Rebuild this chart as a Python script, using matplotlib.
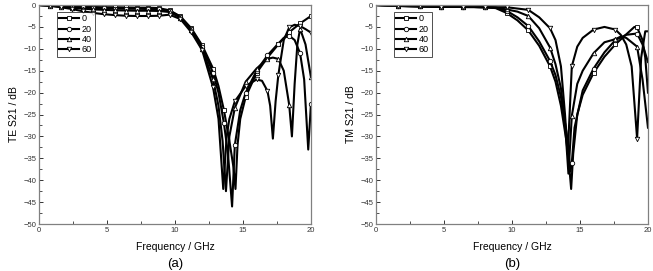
import numpy as np
import matplotlib
matplotlib.use("Agg")
import matplotlib.pyplot as plt
from matplotlib.ticker import MultipleLocator

plt.rcParams['font.family'] = ['Liberation Sans', 'DejaVu Sans']

angles = ["0", "20", "40", "60"]
markers = ["s", "o", "^", "v"]

# ---------------- TE (a) ----------------
te_f_0 = [0, 0.8, 1.6, 2.4, 3.2, 4.0, 4.8, 5.6, 6.4, 7.2, 8.0, 8.8, 9.6, 10.4, 11.2, 12.0, 12.8, 13.2, 13.6,
          14.0, 14.3, 14.45, 14.6, 14.8, 15.2, 16.0, 16.8, 17.6, 18.4, 19.2, 20.0]
te_s_0 = [0, -0.1, -0.2, -0.3, -0.4, -0.45, -0.5, -0.5, -0.55, -0.6, -0.6, -0.7, -1.2, -2.6, -5.3, -9.2, -14.5, -18.5, -24.0,
          -31.0, -37.0, -42.0, -32.0, -26.0, -21.0, -15.5, -12.0, -9.0, -6.2, -4.2, -2.5]

te_f_20 = [0, 0.8, 1.6, 2.4, 3.2, 4.0, 4.8, 5.6, 6.4, 7.2, 8.0, 8.8, 9.6, 10.4, 11.2, 12.0, 12.8, 13.2, 13.6,
           13.9, 14.2, 14.4, 14.8, 15.2, 16.0, 16.8, 17.6, 18.0, 18.4, 18.8, 19.2, 19.5, 19.8, 20.0]
te_s_20 = [0, -0.1, -0.25, -0.4, -0.55, -0.65, -0.75, -0.8, -0.85, -0.85, -0.9, -1.0, -1.3, -2.7, -5.5, -9.5, -15.5, -20.0, -27.0,
           -34.0, -46.0, -32.0, -24.0, -20.0, -15.0, -11.5, -8.8, -7.5, -7.0, -8.0, -11.0, -17.0, -33.0, -22.5]

te_f_40 = [0, 0.8, 1.6, 2.4, 3.2, 4.0, 4.8, 5.6, 6.4, 7.2, 8.0, 8.8, 9.6, 10.4, 11.2, 12.0, 12.8, 13.2, 13.5,
           13.75, 14.0, 14.4, 15.2, 16.0, 16.8, 17.2, 17.6, 18.0, 18.4, 18.6, 18.8, 19.0, 19.2, 19.6, 20.0]
te_s_40 = [0, -0.15, -0.35, -0.6, -0.8, -1.0, -1.1, -1.2, -1.25, -1.3, -1.3, -1.35, -1.6, -2.9, -5.8, -10.0, -17.0, -23.0, -31.0,
           -42.5, -30.0, -23.5, -17.5, -14.5, -12.3, -12.0, -12.3, -15.0, -22.8, -30.0, -18.0, -9.0, -5.4, -9.0, -16.5]

te_f_60 = [0, 0.8, 1.6, 2.4, 3.2, 4.0, 4.8, 5.6, 6.4, 7.2, 8.0, 8.8, 9.6, 10.4, 11.2, 12.0, 12.8, 13.2, 13.55,
           13.8, 14.0, 14.4, 15.2, 16.0, 16.4, 16.8, 17.0, 17.2, 17.4, 17.6, 18.0, 18.4, 18.8, 19.2, 19.6, 20.0]
te_s_60 = [0, -0.2, -0.5, -0.9, -1.4, -1.8, -2.1, -2.3, -2.45, -2.5, -2.5, -2.45, -2.2, -3.2, -6.2, -10.3, -18.8, -26.0, -42.0,
           -30.0, -26.0, -22.0, -18.5, -17.0, -17.3, -19.6, -23.0, -30.5, -22.0, -16.0, -8.0, -5.1, -4.5, -4.8, -5.5, -6.3]

# ---------------- TM (b) ----------------
tm_f_0 = [0, 0.8, 1.6, 2.4, 3.2, 4.0, 4.8, 5.6, 6.4, 7.2, 8.0, 8.8, 9.6, 10.4, 11.2, 12.0, 12.8, 13.2, 13.6,
          14.0, 14.2, 14.35, 14.5, 14.8, 15.2, 16.0, 16.8, 17.6, 18.4, 19.0, 19.2, 19.6, 19.8, 20.0]
tm_s_0 = [0, -0.1, -0.2, -0.25, -0.3, -0.35, -0.4, -0.4, -0.45, -0.45, -0.5, -0.7, -1.8, -3.5, -5.8, -9.3, -14.0, -17.5, -23.0,
          -31.0, -36.5, -42.0, -34.0, -25.0, -20.5, -15.5, -11.8, -9.0, -6.7, -5.0, -5.1, -8.0, -12.0, -20.0]

tm_f_20 = [0, 0.8, 1.6, 2.4, 3.2, 4.0, 4.8, 5.6, 6.4, 7.2, 8.0, 8.8, 9.6, 10.4, 11.2, 12.0, 12.8, 13.2, 13.6,
           14.0, 14.3, 14.4, 14.6, 15.2, 16.0, 16.8, 17.6, 18.4, 19.2, 19.6, 20.0]
tm_s_20 = [0, -0.1, -0.2, -0.25, -0.3, -0.35, -0.4, -0.4, -0.45, -0.45, -0.5, -0.6, -1.3, -2.8, -4.8, -8.3, -12.8, -16.0, -21.0,
           -29.0, -38.0, -36.0, -28.0, -19.5, -14.5, -10.8, -8.0, -6.8, -6.5, -9.0, -13.0]

tm_f_40 = [0, 0.8, 1.6, 2.4, 3.2, 4.0, 4.8, 5.6, 6.4, 7.2, 8.0, 8.8, 9.6, 10.4, 11.2, 12.0, 12.8, 13.2, 13.6,
           13.9, 14.15, 14.4, 14.8, 15.2, 16.0, 16.8, 17.6, 18.0, 18.4, 19.2, 19.6, 20.0]
tm_s_40 = [0, -0.1, -0.2, -0.25, -0.3, -0.35, -0.4, -0.4, -0.45, -0.45, -0.5, -0.6, -1.0, -1.5, -2.5, -5.3, -9.7, -13.5, -19.0,
           -27.0, -38.5, -25.3, -18.0, -15.0, -11.0, -8.5, -7.8, -7.2, -7.5, -9.5, -17.0, -28.0]

tm_f_60 = [0, 0.8, 1.6, 2.4, 3.2, 4.0, 4.8, 5.6, 6.4, 7.2, 8.0, 8.8, 9.6, 10.4, 11.2, 12.0, 12.8, 13.2, 13.6,
           13.9, 14.1, 14.4, 14.8, 15.2, 16.0, 16.8, 17.6, 18.0, 18.4, 18.8, 19.2, 19.5, 19.8, 20.0]
tm_s_60 = [0, -0.1, -0.2, -0.25, -0.3, -0.35, -0.4, -0.4, -0.45, -0.45, -0.5, -0.5, -0.5, -0.8, -1.1, -2.8, -5.3, -8.0, -14.0,
           -25.0, -34.0, -14.0, -9.5, -7.5, -5.6, -5.0, -5.6, -6.8, -9.0, -14.0, -30.5, -12.0, -6.0, -6.0]

#====================================================================================================

def drawPanel(axis, freqs, values, markStep, ylabel, tag):
    for f, s, m, lab in zip(freqs, values, markers, angles):
        f = np.array(f)
        ratio = f / markStep
        marks = list(np.where((np.abs(ratio - np.round(ratio)) < 1e-6) & (f > 0))[0])
        axis.plot(f, s, color="black", linewidth=1.5, marker=m, markersize=3.2,
                  markerfacecolor="white", markeredgecolor="black", markeredgewidth=0.6,
                  markevery=marks, label=lab, solid_joinstyle="round")

    axis.set_xlim(0, 20)
    axis.set_ylim(-50, 0)
    axis.xaxis.set_major_locator(MultipleLocator(5))
    axis.xaxis.set_minor_locator(MultipleLocator(2.5))
    axis.yaxis.set_major_locator(MultipleLocator(5))
    axis.yaxis.set_minor_locator(MultipleLocator(2.5))
    axis.tick_params(which="both", direction="in", top=False, right=False, labelsize=5.5, pad=2, colors="#333333")
    axis.tick_params(which="major", length=3, width=0.7)
    axis.tick_params(which="minor", length=2, width=0.6)
    for sp in axis.spines.values():
        sp.set_color("#808080")
        sp.set_linewidth(0.9)

    axis.set_ylabel(ylabel, fontsize=7.5, labelpad=3)
    axis.set_xlabel("Frequency / GHz", fontsize=7.5, labelpad=6)
    axis.text(0.5, -0.183, tag, transform=axis.transAxes, ha="center", va="center", fontsize=9.5)

    leg = axis.legend(loc="upper left", bbox_to_anchor=(0.065, 0.97), fontsize=6.5, handlelength=2.2,
                      handletextpad=0.3, labelspacing=0.15, borderpad=0.3, frameon=True, fancybox=False,
                      borderaxespad=0.0)
    leg.get_frame().set_edgecolor("black")
    leg.get_frame().set_linewidth(0.6)

#====================================================================================================

def main():
    fig = plt.figure(figsize=(6.53, 2.71), dpi=100)
    axisA = fig.add_axes([0.0597, 0.1734, 0.4165, 0.808])
    axisB = fig.add_axes([0.5758, 0.1734, 0.4165, 0.808])

    drawPanel(axisA, [te_f_0, te_f_20, te_f_40, te_f_60], [te_s_0, te_s_20, te_s_40, te_s_60], 0.8, "TE S21 / dB", "(a)")
    drawPanel(axisB, [tm_f_0, tm_f_20, tm_f_40, tm_f_60], [tm_s_0, tm_s_20, tm_s_40, tm_s_60], 1.6, "TM S21 / dB", "(b)")

    fig.savefig("out.png", dpi=100)

#====================================================================================================

if __name__ == "__main__":
    main()
